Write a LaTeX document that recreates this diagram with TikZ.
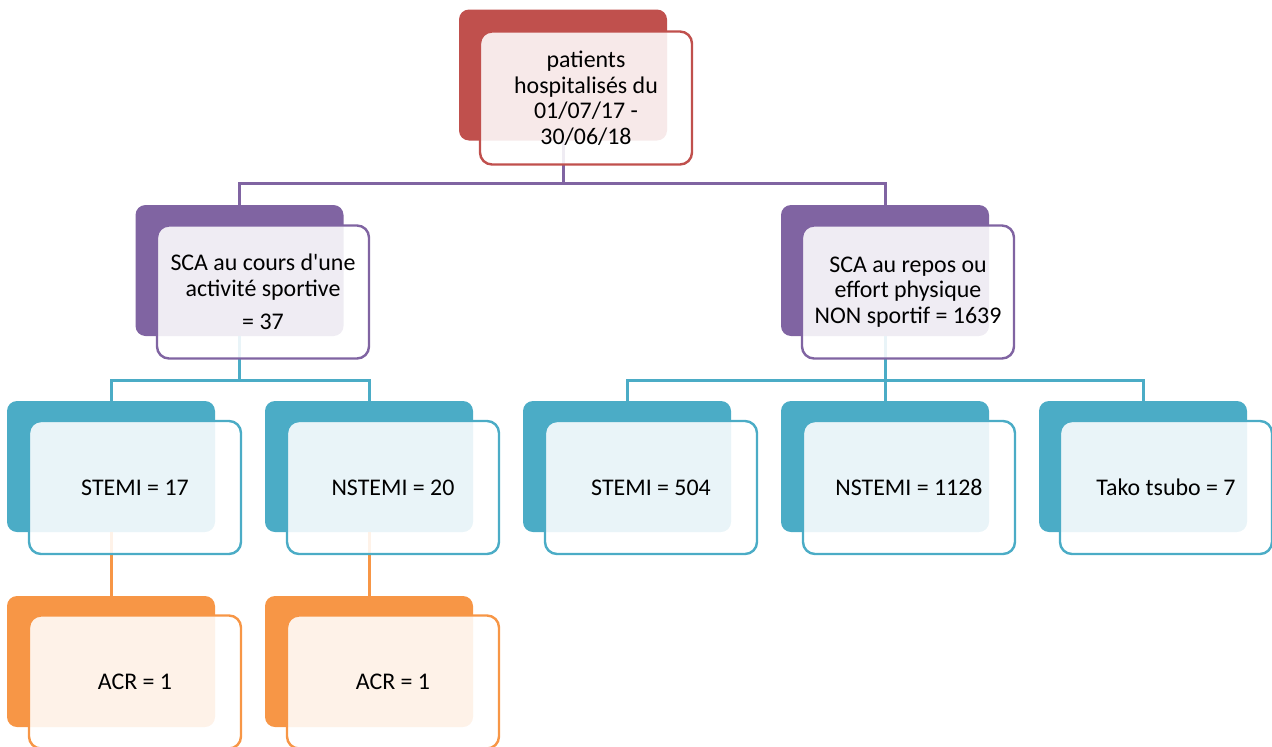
\documentclass[tikz,border=0pt]{standalone}
\usepackage{fontspec}
\setmainfont{Carlito}[Ligatures=TeXOff]
\definecolor{cred}{HTML}{C0504D}
\definecolor{cpur}{HTML}{8064A2}
\definecolor{cblu}{HTML}{4BACC6}
\definecolor{cora}{HTML}{F79646}
\tikzset{
  backbox/.style={rectangle, rounded corners=10pt, minimum width=208pt, minimum height=131pt, inner sep=0pt, fill=#1},
  frontbox/.style={rectangle, rounded corners=12pt, minimum width=212pt, minimum height=133pt, inner sep=0pt,
    draw=#1, line width=2.4pt, fill=white, fill opacity=0.88, text opacity=1, align=center,
    font=\fontsize{23.9}{25.5}\selectfont},
  conn/.style={draw=#1, line width=3pt},
}
\begin{document}
\begin{tikzpicture}[x=1pt,y=-1pt]
\useasboundingbox (0,0) rectangle (1272,747);
\coordinate (hTop) at (0,183);
\coordinate (hMid) at (0,380);
% back boxes
\node[backbox=cred] (topB) at (563,75) {};
\node[backbox=cpur] (pLB) at (239.5,270.5) {};
\node[backbox=cpur] (pRB) at (885,270.5) {};
\node[backbox=cblu] (b1B) at (111,466.5) {};
\node[backbox=cblu] (b2B) at (369,466.5) {};
\node[backbox=cblu] (b3B) at (627,466.5) {};
\node[backbox=cblu] (b4B) at (885,466.5) {};
\node[backbox=cblu] (b5B) at (1143,466.5) {};
\node[backbox=cora] (o1B) at (111,661.5) {};
\node[backbox=cora] (o2B) at (369,661.5) {};
% connectors
\draw[conn=cpur] (topB.south) -- (topB.south |- hTop) -| (pLB.north);
\draw[conn=cpur] (topB.south |- hTop) -| (pRB.north);
\draw[conn=cblu] (pLB.south) -- (pLB.south |- hMid) -| (b1B.north);
\draw[conn=cblu] (pLB.south |- hMid) -| (b2B.north);
\draw[conn=cblu] (pRB.south) -- (pRB.south |- hMid) -| (b3B.north);
\draw[conn=cblu] (b3B.north |- hMid) -| (b5B.north);
\draw[conn=cblu] (pRB.south |- hMid) -- (b4B.north);
\draw[conn=cora] (b1B.south) -- (o1B.north);
\draw[conn=cora] (b2B.south) -- (o2B.north);
% front boxes
\node[frontbox=cred] (topF) at (586,98) {patients\\hospitalisés du\\01/07/17 -\\30/06/18};
\node[frontbox=cpur] (pLF) at (263,292) {SCA au cours d'une\\activité sportive\\[8pt]= 37};
\node[frontbox=cpur] (pRF) at (908,292) {SCA au repos ou\\effort physique\\NON sportif = 1639};
\node[frontbox=cblu] (b1F) at (135,487.5) {STEMI = 17};
\node[frontbox=cblu] (b2F) at (393,487.5) {NSTEMI = 20};
\node[frontbox=cblu] (b3F) at (651,487.5) {STEMI = 504};
\node[frontbox=cblu] (b4F) at (909,487.5) {NSTEMI = 1128};
\node[frontbox=cblu] (b5F) at (1166,487.5) {Tako tsubo = 7};
\node[frontbox=cora] (o1F) at (135,682) {ACR = 1};
\node[frontbox=cora] (o2F) at (393,682) {ACR = 1};
\end{tikzpicture}
\end{document}
